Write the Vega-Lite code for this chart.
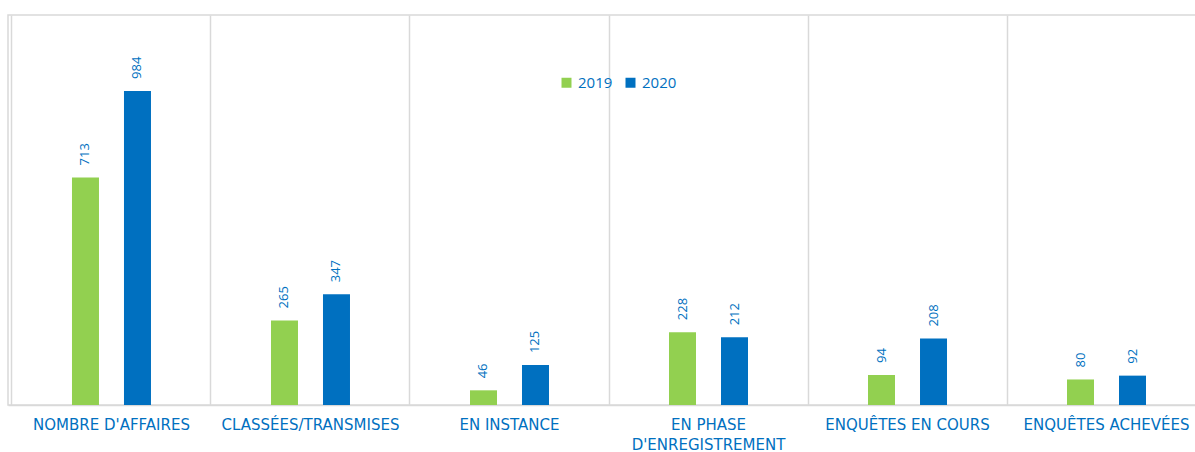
{
  "$schema": "https://vega.github.io/schema/vega-lite/v6.json",
  "autosize": {"type": "none"},
  "padding": {"left": 8, "top": 15, "right": 0, "bottom": 47},
  "width": 1202,
  "height": 390,
  "background": "white",
  "config": {
    "font": "Open Sans",
    "view": {"stroke": "#d9d9d9", "strokeWidth": 1.5}
  },
  "data": {
    "values": [
      {"cat": "NOMBRE D'AFFAIRES", "year": "2019", "value": 713},
      {"cat": "NOMBRE D'AFFAIRES", "year": "2020", "value": 984},
      {"cat": "CLASSÉES/TRANSMISES", "year": "2019", "value": 265},
      {"cat": "CLASSÉES/TRANSMISES", "year": "2020", "value": 347},
      {"cat": "EN INSTANCE", "year": "2019", "value": 46},
      {"cat": "EN INSTANCE", "year": "2020", "value": 125},
      {"cat": "EN PHASE D'ENREGISTREMENT", "year": "2019", "value": 228},
      {"cat": "EN PHASE D'ENREGISTREMENT", "year": "2020", "value": 212},
      {"cat": "ENQUÊTES EN COURS", "year": "2019", "value": 94},
      {"cat": "ENQUÊTES EN COURS", "year": "2020", "value": 208},
      {"cat": "ENQUÊTES ACHEVÉES", "year": "2019", "value": 80},
      {"cat": "ENQUÊTES ACHEVÉES", "year": "2020", "value": 92}
    ]
  },
  "encoding": {
    "x": {
      "field": "cat",
      "type": "nominal",
      "sort": null,
      "scale": {"paddingInner": 0, "paddingOuter": 0.02},
      "axis": {
        "title": null,
        "ticks": false,
        "grid": true,
        "gridColor": "#d9d9d9",
        "gridWidth": 1.5,
        "bandPosition": 0,
        "labelAngle": 0,
        "labelFont": "DejaVu Sans",
        "labelFontSize": 15,
        "labelColor": "#0070C0",
        "labelPadding": 12,
        "labelLineHeight": 20,
        "labelLimit": 250,
        "domainColor": "#d9d9d9",
        "domainWidth": 1.5,
        "labelExpr": "indexof(datum.label, 'PHASE') >= 0 ? ['EN PHASE', \"D'ENREGISTREMENT\"] : datum.label"
      }
    },
    "xOffset": {
      "field": "year",
      "type": "nominal",
      "scale": {"paddingInner": 0.173, "paddingOuter": 1}
    },
    "y": {
      "field": "value",
      "type": "quantitative",
      "scale": {"domain": [0, 1222], "nice": false},
      "axis": null
    }
  },
  "layer": [
    {
      "mark": {"type": "bar", "width": 27},
      "encoding": {
        "color": {
          "field": "year",
          "type": "nominal",
          "scale": {"domain": ["2019", "2020"], "range": ["#92D050", "#0070C0"]},
          "legend": {
            "title": null,
            "orient": "none",
            "legendX": 551,
            "legendY": 60,
            "direction": "horizontal",
            "symbolType": "square",
            "symbolSize": 100,
            "symbolStrokeWidth": 0,
            "labelFont": "Open Sans",
            "labelFontSize": 15,
            "labelColor": "#0070C0",
            "columnPadding": 10,
            "labelOffset": 4
          }
        }
      }
    },
    {
      "mark": {
        "type": "text",
        "angle": 270,
        "align": "left",
        "baseline": "middle",
        "dx": 12,
        "font": "Open Sans",
        "fontSize": 13,
        "color": "#0070C0"
      },
      "encoding": {
        "text": {"field": "value", "type": "quantitative"}
      }
    }
  ]
}
